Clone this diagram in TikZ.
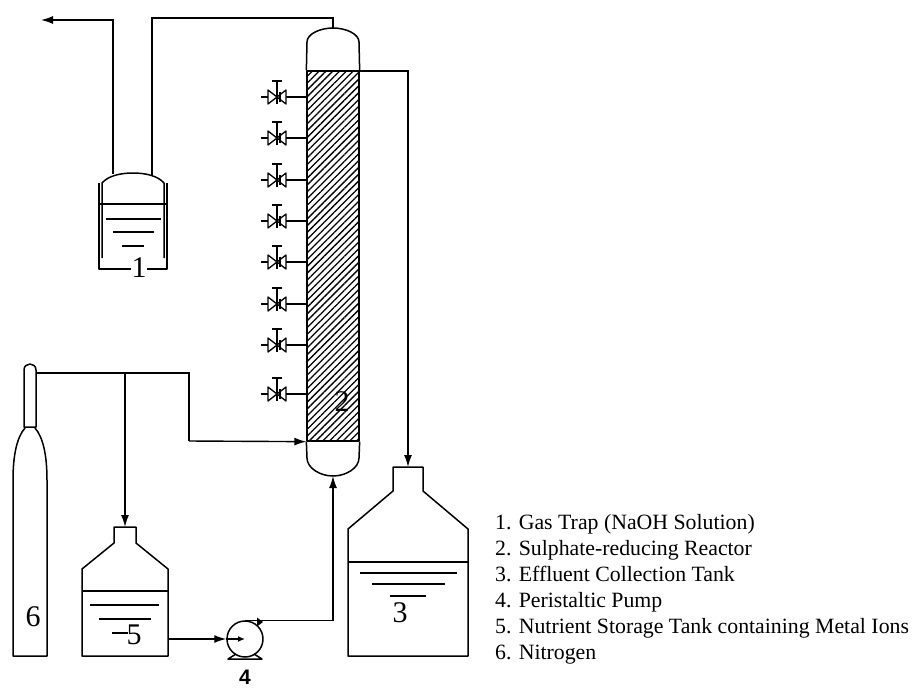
\documentclass[tikz,border=0pt]{standalone}
\usepackage{fontspec}
\setmainfont{Liberation Serif}
\usetikzlibrary{positioning,arrows.meta,patterns.meta}
\newfontfamily\numfont{Liberation Sans}
\tikzset{
  vessel/.style={draw, line width=1.5pt, line join=round},
  level/.style={draw, line width=1.4pt},
  pipe/.style={draw, line width=1.4pt},
  feed/.style={pipe, -{Latex[length=12pt,width=8pt]}},
  tag/.style={font=\fontsize{30}{32}\selectfont, inner sep=0pt},
}
\begin{document}
\begin{tikzpicture}[x=1pt, y=-1pt]
\useasboundingbox (0,0) rectangle (913,689);
% reactor
\node[vessel, pattern={Lines[angle=45,distance=4.8pt,line width=1.3pt]}, minimum width=52pt, minimum height=370pt, inner sep=0pt] (bed) at (333,256) {};
\draw[vessel] (bed.north west) -- (307,42) .. controls (307,34) and (320,28) .. (333,28) coordinate (domeTop) .. controls (346,28) and (359,34) .. (359,42) -- (bed.north east);
\draw[vessel] (bed.south west) -- (307,458) .. controls (307,468) and (320,476) .. (333,476) coordinate (domeBot) .. controls (346,476) and (359,468) .. (359,458) -- (bed.south east);
\node[tag] (t2) at (342,402) {2};
% sampling valves
\foreach \vy [count=\vi] in {97,138,180,221,262,304,345,394} {
  \coordinate (port\vi) at (307,\vy);
  \coordinate (valve\vi) at (277,\vy);
  \draw[pipe] (port\vi) -- ++(-21,0);
  \draw[pipe] (valve\vi) ++(-9,0) -- ++(-7,0);
  \draw[vessel, line width=1.3pt] (valve\vi) -- ++(-9,-7) -- ++(0,14) -- cycle;
  \draw[vessel, line width=1.3pt] (valve\vi) -- ++(9,-7) -- ++(0,14) -- cycle;
  \draw[vessel, line width=1.3pt] (valve\vi) ++(0,7) -- ++(0,-23) ++(-5,0) -- ++(10,0);
  \draw[line width=2.4pt] (valve\vi) ++(3,-5) -- ++(0,10);
}
% gas trap
\draw[vessel] (102,258) -- (102,183) .. controls (108,176) and (120,173) .. (133,173) .. controls (146,173) and (158,176) .. (164,183) -- (164,258);
\draw[vessel] (99,183) -- (99,269) -- (131,269);
\draw[vessel] (147,269) -- (167,269) -- (167,183);
\draw[level] (100,204) -- (167,204);
\draw[level] (106,219) -- (161,219);
\draw[level] (113,232) -- (154,232);
\draw[level] (122,246) -- (144,246);
\node[tag] (t1) at (139,268) {1};
\coordinate (trapIn) at (152,175);
\coordinate (trapOut) at (113,174);
\coordinate (vent) at (41,20);
% nitrogen cylinder
\draw[vessel] (25,428) .. controls (17,437) and (13,455) .. (13,480) -- (13,656) -- (47,656) -- (47,480) .. controls (47,455) and (43,437) .. (35,428);
\draw[vessel] (24,427) -- (24,370) .. controls (24,366) and (27,364) .. (30,364) .. controls (33,364) and (36,366) .. (36,370) -- (36,427) -- cycle;
\coordinate (gasOut) at (36,373);
\node[tag] (t6) at (33,617) {6};
% nutrient tank
\draw[vessel] (82,656) -- (82,569) -- (114,543) -- (114,527) -- (136,527) -- (136,543) -- (168,569) -- (168,656) -- cycle;
\draw[level] (82,591) -- (168,591);
\draw[level] (90,605) -- (159,605);
\draw[level] (99,619) -- (151,619);
\draw[level] (112,633) -- (128,633);
\node[tag] (t5) at (134,635) {5};
% effluent tank
\draw[vessel] (348,656) -- (348,529) -- (393,491) -- (393,467) -- (423,467) -- (423,491) -- (468,529) -- (468,656) -- cycle;
\draw[vessel, line width=2pt] (348,562) -- (468,562);
\draw[level] (360,573) -- (457,573);
\draw[level] (372,584) -- (445,584);
\draw[level] (390,596) -- (426,596);
\node[tag] (t3) at (400,613) {3};
% pump
\node[vessel, circle, minimum size=36pt, inner sep=0pt] (pump) at (245,639) {};
\draw[vessel] (236,654) -- (228,659) -- (262,659) -- (254,654);
\node[tag, font=\numfont\bfseries\fontsize{21}{21}\selectfont] (t4) at (245,677) {4};
% pipes
\draw[pipe, line width=1.9pt] (trapIn) -- (152,18) -| (domeTop);
\draw[feed] (trapOut) |- (vent);
\coordinate (bedOut) at (359,71);
\coordinate (tank3In) at (408,467);
\draw[feed] (bedOut) -| (tank3In);
\coordinate (gasTee) at (125,373);
\coordinate (tank5In) at (125,527);
\draw[pipe, line width=1.9pt] (gasOut) -- (gasTee);
\draw[feed] (gasTee) -- (tank5In);
\draw[pipe, line width=1.9pt] (gasTee) -- (189,373) -- (189,441);
\draw[feed] (189,441) -- (bed.south west);
\coordinate (tank5Out) at (168,639);
\draw[feed] (tank5Out) -- (pump.west);
\draw[pipe, -{Latex[length=7pt,width=6pt]}] (pump.west) -- (pump.center);
\coordinate (pumpOut) at (pump.north);
\draw[feed] (pumpOut) -| (domeBot);
\fill (257,617.5) -- (263,622) -- (257,626.5) -- cycle;
% legend
\node[align=left, anchor=north west, inner sep=0pt, font=\fontsize{21.8}{26}\selectfont] (legend) at (495,514) {1. Gas Trap (NaOH Solution)\\2. Sulphate-reducing Reactor\\3. Effluent Collection Tank\\4. Peristaltic Pump\\5. Nutrient Storage Tank containing Metal Ions\\6. Nitrogen};
\end{tikzpicture}
\end{document}
